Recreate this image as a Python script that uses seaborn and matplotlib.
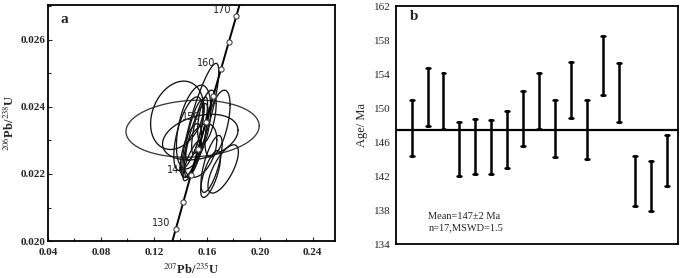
import numpy as np
import pandas as pd
import seaborn as sns
import matplotlib
matplotlib.use("Agg")
import matplotlib.pyplot as plt
from matplotlib.ticker import MultipleLocator, FormatStrFormatter

# concordia points (207Pb/235U, 206Pb/238U), every 5 Ma
conc_age = [125, 130, 135, 140, 145, 150, 155, 160, 165, 170, 175]
conc_x = [0.1310, 0.1366, 0.1422, 0.1478, 0.1535, 0.1592, 0.1649, 0.1707, 0.1765, 0.1823, 0.1881]
conc_y = [0.01958, 0.02037, 0.02116, 0.02196, 0.02275, 0.02354, 0.02434, 0.02513, 0.02593, 0.02672, 0.02752]
conc_labels = [130, 140, 150, 160, 170]

# error ellipses: centre, half widths and correlation
ell_x = [0.1492, 0.1375, 0.1550, 0.1550, 0.1680, 0.1500, 0.1635, 0.1723, 0.1628,
         0.1550, 0.1510, 0.1545, 0.1480, 0.1460, 0.1520, 0.1600, 0.1490]
ell_y = [0.02335, 0.02375, 0.02310, 0.02360, 0.02350, 0.02340, 0.02230, 0.02215, 0.02200,
         0.02270, 0.02330, 0.02345, 0.02270, 0.02320, 0.02300, 0.02370, 0.02240]
ell_sx = [0.0503, 0.0200, 0.0285, 0.0140, 0.0095, 0.0130, 0.0080, 0.0115, 0.0075,
          0.0125, 0.0070, 0.0060, 0.0080, 0.0110, 0.0090, 0.0070, 0.0070]
ell_sy = [0.00085, 0.00102, 0.00068, 0.00170, 0.00100, 0.00125, 0.00085, 0.00072, 0.00070,
          0.00080, 0.00090, 0.00085, 0.00080, 0.00110, 0.00110, 0.00080, 0.00060]
ell_rho = [0.1, 0.25, 0.3, 0.85, 0.55, 0.45, 0.7, 0.7, 0.7, 0.4, 0.75, 0.75, 0.6, 0.6, 0.75, 0.5, 0.8]

# weighted mean plot: age error bar ends (Ma)
age_high = [151.0, 154.7, 154.1, 148.35, 148.7, 148.65, 149.65, 152.05, 154.1,
            150.9, 155.4, 151.0, 158.5, 155.25, 144.4, 143.75, 146.8]
age_low = [144.4, 147.9, 147.5, 142.05, 142.25, 142.25, 142.95, 145.55, 147.5,
           144.3, 148.8, 144.05, 151.5, 148.35, 138.5, 137.9, 140.85]
mean_age = 147.45
age_ticks = [134, 138, 142, 146, 150, 154, 158, 162]

sns.set_theme(style="white")
plt.rcParams['font.family'] = ['Liberation Serif', 'DejaVu Serif']
plt.rcParams['mathtext.fontset'] = 'stix'

fig = plt.figure(figsize=(6.85, 2.78), dpi=100)
ax1 = fig.add_axes([0.070, 0.133, 0.419, 0.849])
ax2 = fig.add_axes([0.578, 0.122, 0.412, 0.856])

# ---- panel a: concordia ----
t = np.linspace(0, 2 * np.pi, 200)
for i in range(len(ell_x)):
    ex = ell_x[i] + ell_sx[i] * np.cos(t)
    ey = ell_y[i] + ell_sy[i] * (ell_rho[i] * np.cos(t) + np.sqrt(1 - ell_rho[i] ** 2) * np.sin(t))
    col = '#3a3a3a' if i == 0 else '#151515'
    ax1.plot(ex, ey, color=col, lw=0.95)

conc = pd.DataFrame({'age': conc_age, 'x': conc_x, 'y': conc_y})
sns.lineplot(data=conc, x='x', y='y', sort=False, color='black', lw=1.4, ax=ax1)
mk = conc[(conc.age >= 130) & (conc.age <= 170)]
sns.scatterplot(data=mk, x='x', y='y', marker='o', s=14, facecolor='white',
                edgecolor='#444444', linewidth=0.8, ax=ax1, zorder=5)
for a in conc_labels:
    r = conc[conc.age == a].iloc[0]
    ax1.text(r.x - 0.004, r.y + 0.00002, str(a), ha='right', va='bottom',
             fontsize=7, family='DejaVu Sans', color='#222222', zorder=6)

ax1.set_xlim(0.04, 0.2567)
ax1.set_ylim(0.020, 0.02704)
ax1.xaxis.set_major_locator(MultipleLocator(0.04))
ax1.xaxis.set_minor_locator(MultipleLocator(0.02))
ax1.yaxis.set_major_locator(MultipleLocator(0.002))
ax1.yaxis.set_minor_locator(MultipleLocator(0.001))
ax1.xaxis.set_major_formatter(FormatStrFormatter('%.2f'))
ax1.yaxis.set_major_formatter(FormatStrFormatter('%.3f'))
ax1.tick_params(which='both', direction='in', length=3, width=0.8,
                bottom=True, left=True, labelsize=8, pad=2)
ax1.tick_params(axis='x', which='both', pad=5)
ax1.tick_params(which='minor', length=2)
for lab in ax1.get_xticklabels() + ax1.get_yticklabels():
    lab.set_fontweight('bold')
ax1.set_xlabel(r'$^{207}$Pb/$^{235}$U', fontsize=9, fontweight='bold', labelpad=3)
ax1.set_ylabel(r'$^{206}$Pb/$^{238}$U', fontsize=9, fontweight='bold', labelpad=2)
ax1.text(0.045, 0.94, 'a', transform=ax1.transAxes, fontsize=11, fontweight='bold',
         va='center', ha='left')
for s in ax1.spines.values():
    s.set_color('black')
    s.set_linewidth(1.3)

# ---- panel b: ages ----
ages = pd.DataFrame({
    'sample': list(range(1, 18)) * 2,
    'age': age_low + age_high,
})
sns.pointplot(data=ages, x='sample', y='age', errorbar=('pi', 100), capsize=0.25,
              marker='', linestyle='none', color='black',
              err_kws={'linewidth': 1.8}, ax=ax2)
ax2.axhline(mean_age, color='black', lw=1.6)
ax2.set_xlim(-0.98, 16.7)
ax2.set_ylim(134, 162)
ax2.set_yticks(age_ticks)
ax2.set_xticks([])
ax2.set_xlabel('')
ax2.set_ylabel('Age/ Ma', fontsize=9, labelpad=4)
ax2.tick_params(axis='y', length=0, labelsize=8, pad=4)
ax2.text(0.05, 0.955, 'b', transform=ax2.transAxes, fontsize=11, fontweight='bold',
         va='center', ha='left')
ax2.text(1.05, 137.3, 'Mean=147±2 Ma', fontsize=7.5, va='center', ha='left')
ax2.text(1.05, 135.9, 'n=17,MSWD=1.5', fontsize=7.5, va='center', ha='left')
for s in ax2.spines.values():
    s.set_color('black')
    s.set_linewidth(1.3)

fig.savefig('out.png', dpi=100)
